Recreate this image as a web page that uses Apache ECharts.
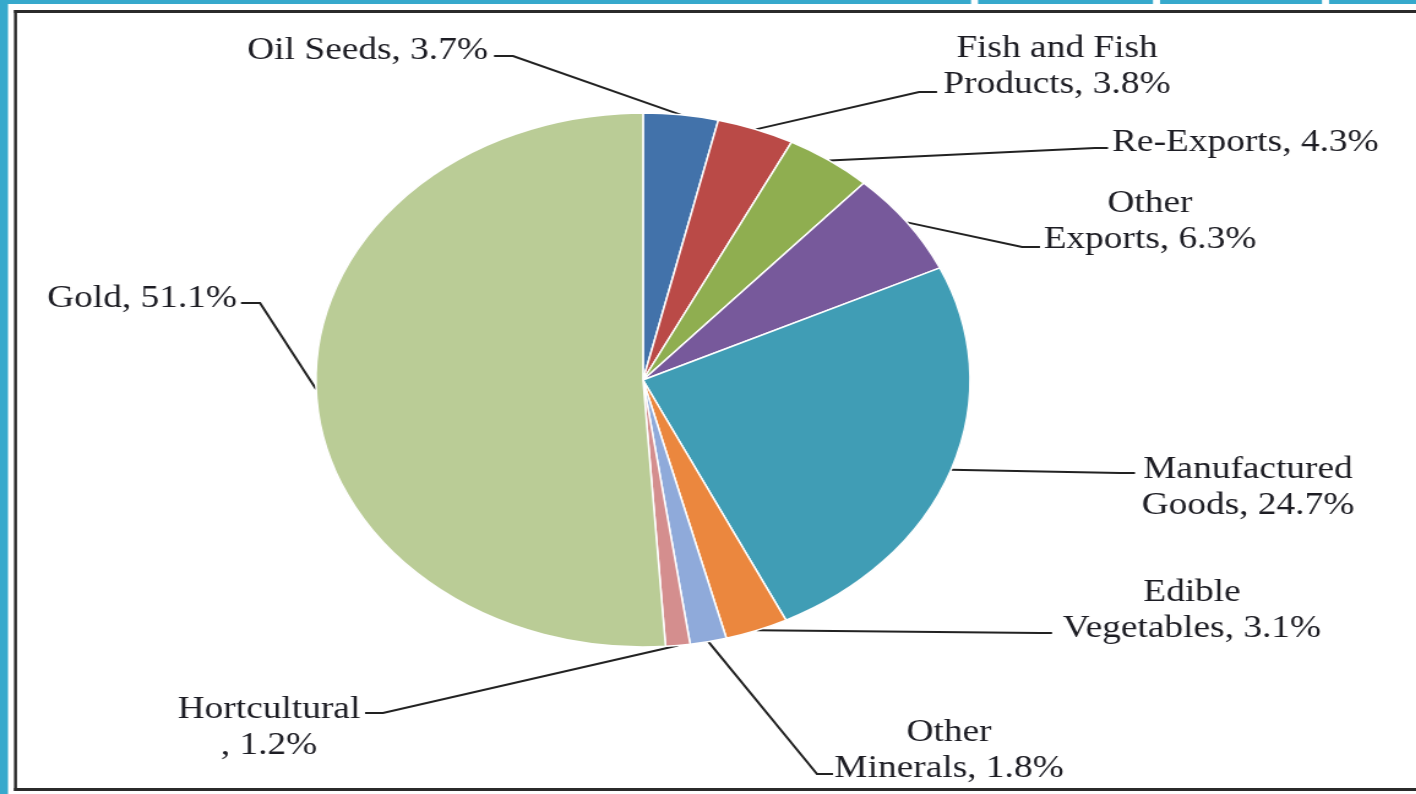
<!DOCTYPE html>
<html>
<head>
<meta charset="utf-8">
<script src="https://cdn.jsdelivr.net/npm/echarts@6/dist/echarts.min.js"></script>
<style>
  html, body { margin: 0; padding: 0; background: #ffffff; overflow: hidden; }
  #wrap { width: 1416px; height: 794px; position: relative; overflow: hidden; }
  /* the source picture is stretched horizontally; reproduce with one uniform stretch */
  #chart { width: 1156px; height: 794px; position: absolute; left: 0; top: 0;
           transform: scaleX(1.225); transform-origin: 0 0; }
</style>
</head>
<body>
<div id="wrap"><div id="chart"></div></div>
<script>
// ---- data ----
const categories = ['Oil Seeds', 'Fish and Fish Products', 'Re-Exports', 'Other Exports',
  'Manufactured Goods', 'Edible Vegetables', 'Other Minerals', 'Hortcultural', 'Gold'];
const shares = [3.7, 3.8, 4.3, 6.3, 24.7, 3.1, 1.8, 1.2, 51.1];

// ---- styles / layout (kept apart from data) ----
const colors = ['#4272AA', '#BA4A47', '#8FAE50', '#77599B', '#409DB5',
  '#EB873E', '#8FAADA', '#D48E8E', '#BACC96'];
const SX = 1.225; // horizontal stretch of the page
const DY = 3;     // vertical nudge of label text
const labelLayoutArr = [
  { x: 488, y: 48,   align: 'right',  brk: null,    elbow: [513, 56],  end: [494, 56] },
  { x: 1057, y: 63.5, align: 'center', brk: 'space', elbow: [919, 92],  end: [937, 92] },
  { x: 1112, y: 139.5, align: 'left',  brk: null,    elbow: [1095, 148], end: [1108, 148] },
  { x: 1150, y: 219, align: 'center', brk: 'space', elbow: [1022, 247], end: [1040, 247] },
  { x: 1248, y: 484.5, align: 'center', brk: 'space', elbow: [1120, 473], end: [1135, 473] },
  { x: 1192, y: 608, align: 'center', brk: 'space', elbow: [1040, 633], end: [1052, 633] },
  { x: 949, y: 748,  align: 'center', brk: 'space', elbow: [817, 774],  end: [833, 774] },
  { x: 269, y: 725,  align: 'center', brk: 'comma', elbow: [383, 713],  end: [365, 713] },
  { x: 237, y: 295.5, align: 'right', brk: null,    elbow: [260, 303],  end: [241, 303] }
];

const seriesData = categories.map((c, i) => ({ name: c, value: shares[i] }));

function fmt(params) {
  const L = labelLayoutArr[params.dataIndex];
  const v = Number(params.value).toFixed(1) + '%';
  const n = params.name;
  if (L.brk === 'space') {
    const k = n.lastIndexOf(' ');
    return n.slice(0, k) + '\n' + n.slice(k + 1) + ', ' + v;
  }
  if (L.brk === 'comma') return n + '\n, ' + v;
  return n + ', ' + v;
}

const W = 1416 / SX;
const cyan = '#36A9CC', frame = '#2b2b2b';
const px = v => v / SX;

const chart = echarts.init(document.getElementById('chart'), null, { renderer: 'canvas' });
chart.setOption({
  animation: false,
  backgroundColor: '#ffffff',
  color: colors,
  graphic: [
    { type: 'rect', shape: { x: 0, y: 0, width: px(8), height: 794 }, style: { fill: cyan }, silent: true },
    { type: 'rect', shape: { x: 0, y: 0, width: px(971), height: 4 }, style: { fill: cyan }, silent: true },
    { type: 'rect', shape: { x: px(978), y: 0, width: px(1153 - 978), height: 4 }, style: { fill: cyan }, silent: true },
    { type: 'rect', shape: { x: px(1160), y: 0, width: px(1322 - 1160), height: 4 }, style: { fill: cyan }, silent: true },
    { type: 'rect', shape: { x: px(1329), y: 0, width: W, height: 4 }, style: { fill: cyan }, silent: true },
    { type: 'rect', shape: { x: px(14), y: 10, width: W, height: 3 }, style: { fill: frame }, silent: true },
    { type: 'rect', shape: { x: px(14), y: 10, width: px(3), height: 781 }, style: { fill: frame }, silent: true },
    { type: 'rect', shape: { x: px(14), y: 788, width: W, height: 3 }, style: { fill: frame }, silent: true }
  ],
  series: [{
    type: 'pie',
    center: [px(643), 380],
    radius: 267,
    startAngle: 90,
    clockwise: true,
    avoidLabelOverlap: false,
    silent: true,
    emphasis: { disabled: true },
    itemStyle: { borderColor: '#ffffff', borderWidth: 1.5 },
    label: {
      show: true,
      position: 'outside',
      formatter: fmt,
      fontFamily: "'Liberation Serif', 'Times New Roman', serif",
      fontSize: 30.5,
      lineHeight: 36,
      color: '#1d1d24'
    },
    labelLine: {
      show: true,
      length: 20,
      length2: 20,
      smooth: false,
      lineStyle: { color: '#222222', width: 2 }
    },
    labelLayout: function (params) {
      const L = labelLayoutArr[params.dataIndex];
      const start = (params.labelLinePoints && params.labelLinePoints[0]) || null;
      const out = {
        x: px(L.x),
        y: L.y + DY,
        align: L.align,
        verticalAlign: 'middle'
      };
      if (start) {
        out.labelLinePoints = [start, [px(L.elbow[0]), L.elbow[1]], [px(L.end[0]), L.end[1]]];
      }
      return out;
    },
    data: seriesData
  }]
});
</script>
</body>
</html>
